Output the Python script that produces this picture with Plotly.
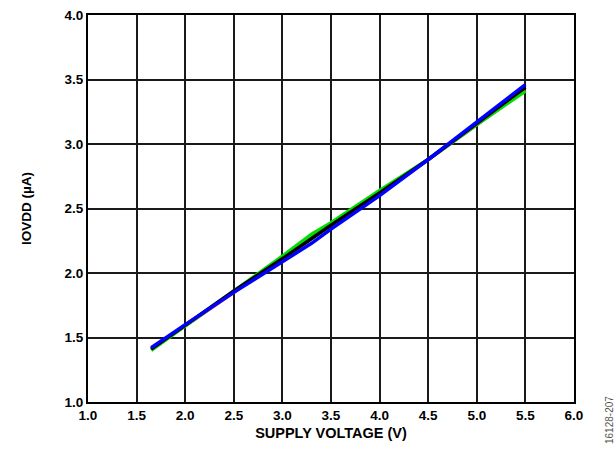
import plotly.graph_objects as go

voltage = [1.65, 1.8, 2.0, 2.5, 3.0, 3.3, 3.5, 4.0, 4.5, 5.0, 5.5]
red_vals = [1.41, 1.49, 1.59, 1.85, 2.12, 2.28, 2.38, 2.63, 2.88, 3.15, 3.42]
green_vals = [1.40, 1.48, 1.59, 1.86, 2.13, 2.30, 2.39, 2.64, 2.88, 3.15, 3.41]
black_vals = [1.41, 1.49, 1.60, 1.86, 2.11, 2.27, 2.37, 2.62, 2.88, 3.16, 3.44]
blue_vals = [1.42, 1.50, 1.60, 1.85, 2.09, 2.23, 2.34, 2.60, 2.88, 3.17, 3.46]

x_ticks = [1.0, 1.5, 2.0, 2.5, 3.0, 3.5, 4.0, 4.5, 5.0, 5.5, 6.0]
y_ticks = [1.0, 1.5, 2.0, 2.5, 3.0, 3.5, 4.0]

fig = go.Figure()
for vals, col in [(red_vals, "#ff2020"), (green_vals, "#00e000"),
                  (black_vals, "#000000"), (blue_vals, "#0000ff")]:
    fig.add_trace(go.Scatter(x=voltage, y=vals, mode="lines",
                             line=dict(color=col, width=3.5), showlegend=False))

font = dict(family="Liberation Sans, Arial", size=14, color="black")
fig.update_layout(
    width=616, height=453,
    margin=dict(l=88, r=42, t=15, b=51),
    paper_bgcolor="white", plot_bgcolor="white",
    font=font,
    xaxis=dict(range=[1.0, 6.0], tickvals=x_ticks, automargin=False,
               ticktext=[f"<b>{v:.1f}</b>" for v in x_ticks],
               tickfont=dict(size=13.5),
               showgrid=True, gridcolor="#1a1a1a", gridwidth=1.6,
               showline=True, linecolor="black", linewidth=2, mirror=True,
               zeroline=False, ticks="", ticklen=0,
               title=dict(text="<b>SUPPLY VOLTAGE (V)</b>", standoff=6,
                          font=dict(size=14.5))),
    yaxis=dict(range=[1.0, 4.0], tickvals=y_ticks, automargin=False,
               ticktext=[f"<b>{v:.1f}</b>" for v in y_ticks],
               tickfont=dict(size=13.5),
               showgrid=True, gridcolor="#1a1a1a", gridwidth=1.6,
               showline=True, linecolor="black", linewidth=2, mirror=True,
               zeroline=False, ticks="", ticklen=0,
               title=dict(text="<b>IOVDD (µA)</b>", standoff=30,
                          font=dict(size=13.5))),
)
fig.add_annotation(text="16128-207", xref="paper", yref="paper",
                   x=(609 - 88) / 486, y=(402 - 420) / 387, textangle=-90,
                   showarrow=False, xanchor="center", yanchor="middle",
                   font=dict(size=10, color="#555555"))
fig.write_html("out.html", config={"displayModeBar": False},
               post_script="document.body.style.margin='0px';document.body.style.overflow='hidden';")
